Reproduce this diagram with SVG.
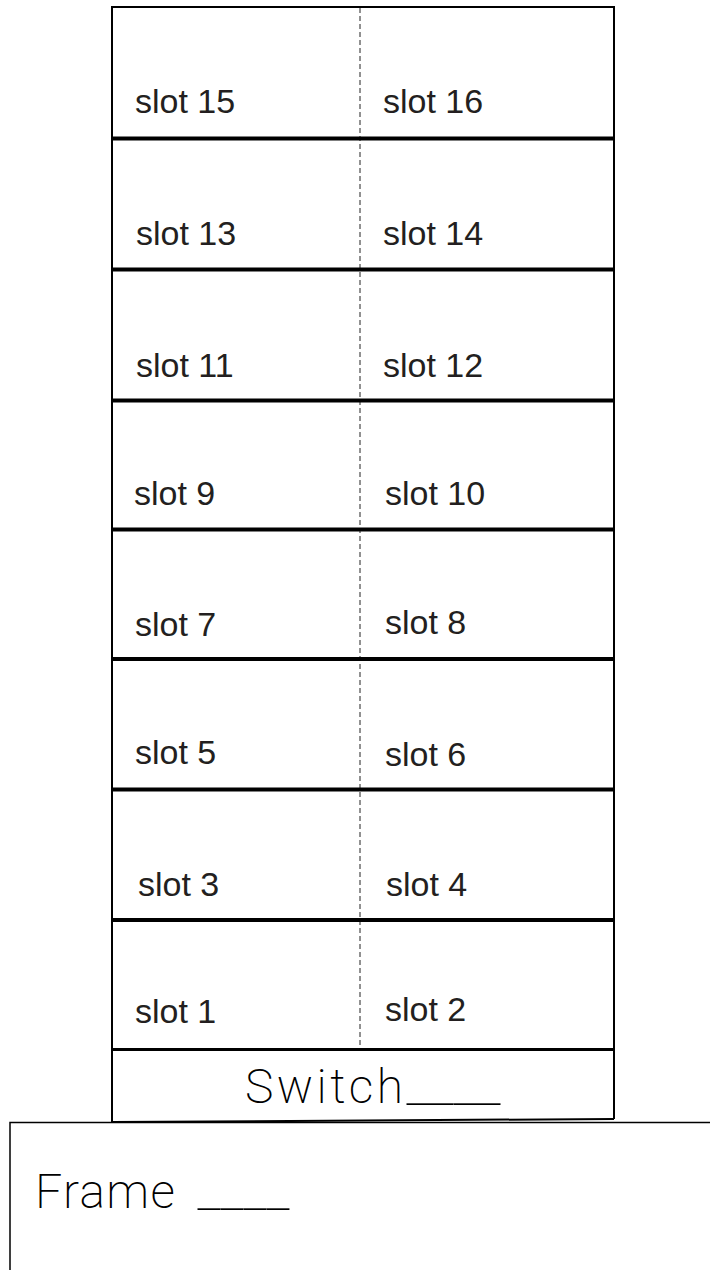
<svg xmlns="http://www.w3.org/2000/svg" width="710" height="1270" viewBox="0 0 710 1270">
<style>
.slot{font-family:"Liberation Sans",Arial,sans-serif;font-size:34px;fill:#231f20}
.thin{font-family:"DejaVu Sans ExtraLight","Roboto","Lato",sans-serif;font-weight:200;fill:#000}
.edge{stroke:#000;stroke-width:2;fill:none}
.div{stroke:#000;stroke-width:4;fill:none}
.dash{stroke:#222;stroke-width:1;stroke-dasharray:5 3;fill:none}
</style>
<rect width="710" height="1270" fill="#fff"/>
<g id="connectors">
<line class="dash" x1="360" y1="8" x2="360" y2="1046"/>
</g>
<g id="rack">
<path class="edge" d="M112 1122 L112 7 L614 7 L614 1119"/>
<line class="div" x1="113" y1="138.5" x2="614" y2="138.5"/>
<line class="div" x1="113" y1="269.5" x2="614" y2="269.5"/>
<line class="div" x1="113" y1="400.5" x2="614" y2="400.5"/>
<line class="div" x1="113" y1="529.5" x2="614" y2="529.5"/>
<line class="div" x1="113" y1="659" x2="614" y2="659"/>
<line class="div" x1="113" y1="789.5" x2="614" y2="789.5"/>
<line class="div" x1="113" y1="920" x2="614" y2="920"/>
<line class="edge" x1="113" y1="1049.5" x2="614" y2="1049.5" style="stroke-width:3"/>
</g>
<g id="slot15"><text class="slot" x="135" y="113">slot 15</text></g>
<g id="slot16"><text class="slot" x="383" y="113">slot 16</text></g>
<g id="slot13"><text class="slot" x="136" y="245">slot 13</text></g>
<g id="slot14"><text class="slot" x="383" y="245">slot 14</text></g>
<g id="slot11"><text class="slot" x="136" y="377">slot 11</text></g>
<g id="slot12"><text class="slot" x="383" y="377">slot 12</text></g>
<g id="slot9"><text class="slot" x="134" y="505">slot 9</text></g>
<g id="slot10"><text class="slot" x="385" y="505">slot 10</text></g>
<g id="slot7"><text class="slot" x="135" y="636">slot 7</text></g>
<g id="slot8"><text class="slot" x="385" y="634">slot 8</text></g>
<g id="slot5"><text class="slot" x="135" y="764">slot 5</text></g>
<g id="slot6"><text class="slot" x="385" y="766">slot 6</text></g>
<g id="slot3"><text class="slot" x="138" y="896">slot 3</text></g>
<g id="slot4"><text class="slot" x="386" y="896">slot 4</text></g>
<g id="slot1"><text class="slot" x="135" y="1023">slot 1</text></g>
<g id="slot2"><text class="slot" x="385" y="1021">slot 2</text></g>
<g id="switch">
<path class="edge" d="M112 1122 L614 1119"/>
<text class="thin" x="245" y="1103" font-size="48"><tspan textLength="158" lengthAdjust="spacing">Switch</tspan><tspan textLength="94" lengthAdjust="spacingAndGlyphs">____</tspan></text>
</g>
<g id="frame">
<path class="edge" d="M10 1270 L10 1122.5 L710 1122.5" style="stroke-width:1.5"/>
<text class="thin" x="35" y="1208" font-size="48"><tspan textLength="140" lengthAdjust="spacing">Frame</tspan><tspan dx="8" textLength="105" lengthAdjust="spacingAndGlyphs"> ____</tspan></text>
</g>
</svg>
